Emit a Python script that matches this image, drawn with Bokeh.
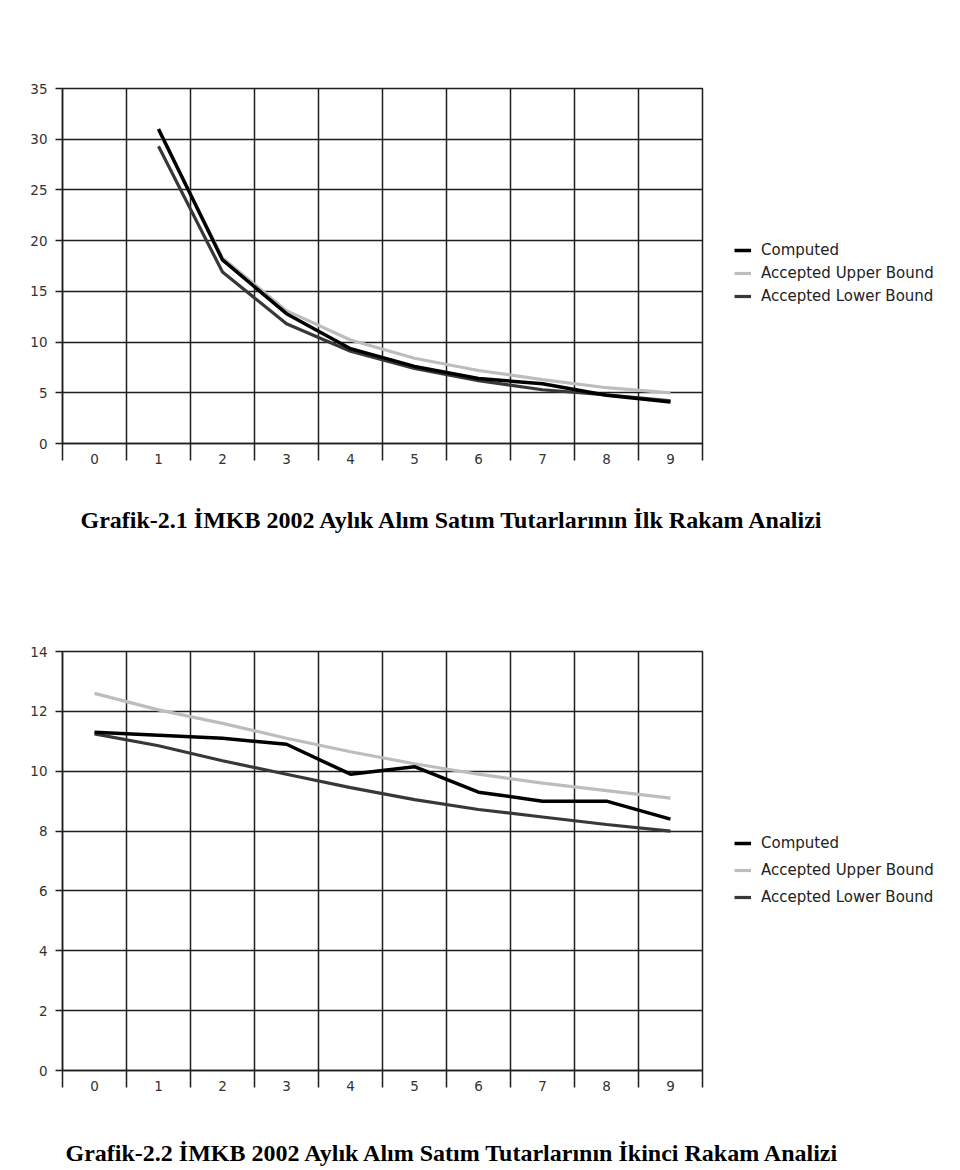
from bokeh.plotting import figure
from bokeh.models import (Range1d, FixedTicker, Legend, LegendItem, Title)
from bokeh.layouts import column
from bokeh.embed import file_html
from bokeh.resources import INLINE

# ---------------- data ----------------
digits1 = [1, 2, 3, 4, 5, 6, 7, 8, 9]
computed1 = [31.0, 18.1, 12.8, 9.35, 7.6, 6.4, 5.9, 4.75, 4.1]
upper1 = [30.9, 18.3, 13.1, 10.2, 8.4, 7.2, 6.3, 5.5, 5.0]
lower1 = [29.3, 16.9, 11.8, 9.1, 7.4, 6.2, 5.3, 4.8, 4.2]

digits2 = [0, 1, 2, 3, 4, 5, 6, 7, 8, 9]
computed2 = [11.3, 11.2, 11.1, 10.9, 9.9, 10.15, 9.3, 9.0, 9.0, 8.4]
upper2 = [12.6, 12.05, 11.6, 11.1, 10.65, 10.25, 9.9, 9.6, 9.35, 9.1]
lower2 = [11.25, 10.85, 10.35, 9.9, 9.45, 9.05, 8.72, 8.47, 8.22, 8.0]

x_labels = [0, 1, 2, 3, 4, 5, 6, 7, 8, 9]
series_names = ["Computed", "Accepted Upper Bound", "Accepted Lower Bound"]
caption1 = "Grafik-2.1 İMKB 2002 Aylık Alım Satım Tutarlarının İlk Rakam Analizi"
caption2 = "Grafik-2.2 İMKB 2002 Aylık Alım Satım Tutarlarının İkinci Rakam Analizi"

COL_COMP = "#000000"
COL_UP = "#bdbdbd"
COL_LOW = "#383838"
GRID = "#1e1e1e"


def make_chart(xs, comp, up, low, ymax, ystep, fig_h, top, frame_h,
               caption, cap_offset, legend_loc, legend_spacing,
               spacer_standoff, cap_standoff):
    p = figure(frame_width=640, frame_height=frame_h, output_backend="svg",
               toolbar_location=None,
               x_range=Range1d(-0.5, 9.5), y_range=Range1d(0, ymax),
               min_border_left=62, min_border_right=258, min_border_top=top,
               min_border_bottom=fig_h - top - frame_h)
    p.background_fill_color = "white"
    p.border_fill_color = "white"
    p.outline_line_color = GRID
    p.outline_line_width = 1.5

    bounds = [i - 0.5 for i in x_labels] + [x_labels[-1] + 0.5]
    p.xaxis.ticker = FixedTicker(ticks=x_labels, minor_ticks=bounds)
    p.xgrid.ticker = FixedTicker(ticks=bounds)
    p.xaxis.major_tick_out = 0
    p.xaxis.major_tick_in = 0
    p.xaxis.minor_tick_out = 17
    p.xaxis.minor_tick_in = 0
    p.xaxis.minor_tick_line_color = GRID
    p.xaxis.minor_tick_line_width = 1.5
    p.xaxis.major_label_standoff = -7

    yt = list(range(0, ymax + 1, ystep))
    p.yaxis.ticker = FixedTicker(ticks=yt, minor_ticks=[])
    p.ygrid.ticker = FixedTicker(ticks=yt)
    p.yaxis.major_tick_out = 7
    p.yaxis.major_tick_in = 0
    p.yaxis.major_label_standoff = 8
    p.yaxis.major_tick_line_width = 1.5
    p.yaxis.major_tick_line_color = GRID

    for ax in (p.xaxis, p.yaxis):
        ax.axis_line_color = GRID
        ax.axis_line_width = 1.5
        ax.major_label_text_font = "DejaVu Sans"
        ax.major_label_text_font_size = "13.5px"
        ax.major_label_text_color = "#333333"

    for g in (p.xgrid, p.ygrid):
        g.grid_line_color = GRID
        g.grid_line_width = 1.5
        g.grid_line_alpha = 1.0

    r_up = p.line(xs, up, line_color=COL_UP, line_width=3.2)
    r_low = p.line(xs, low, line_color=COL_LOW, line_width=3.2)
    r_comp = p.line(xs, comp, line_color=COL_COMP, line_width=3.5)

    legend = Legend(items=[LegendItem(label=series_names[0], renderers=[r_comp]),
                           LegendItem(label=series_names[1], renderers=[r_up]),
                           LegendItem(label=series_names[2], renderers=[r_low])],
                    location=legend_loc, orientation="vertical",
                    border_line_color=None, background_fill_alpha=0,
                    glyph_width=17, glyph_height=20, label_height=20,
                    label_standoff=10, spacing=legend_spacing, padding=5, margin=0,
                    label_text_font="DejaVu Sans", label_text_font_size="15px",
                    label_text_color="#222222")
    p.add_layout(legend, "right")

    if spacer_standoff:
        spacer = Title(text=" ", text_font_size="10px", standoff=spacer_standoff)
        p.add_layout(spacer, "below")

    t = Title(text=caption, align="left", offset=cap_offset,
              text_font="Liberation Serif", text_font_style="bold",
              text_font_size="24px", text_color="#000000", standoff=cap_standoff)
    p.add_layout(t, "below")
    return p


p1 = make_chart(digits1, computed1, upper1, lower1, 35, 5, 590, 88, 355,
                caption1, 18, (32, 137), 3, 0, 77)
p2 = make_chart(digits2, computed2, upper2, lower2, 14, 2, 580, 61, 419,
                caption2, 3, (32, 163), 7, 30, 2)

layout = column(p1, p2, spacing=0)
open("out.html", "w").write(file_html(layout, INLINE))
